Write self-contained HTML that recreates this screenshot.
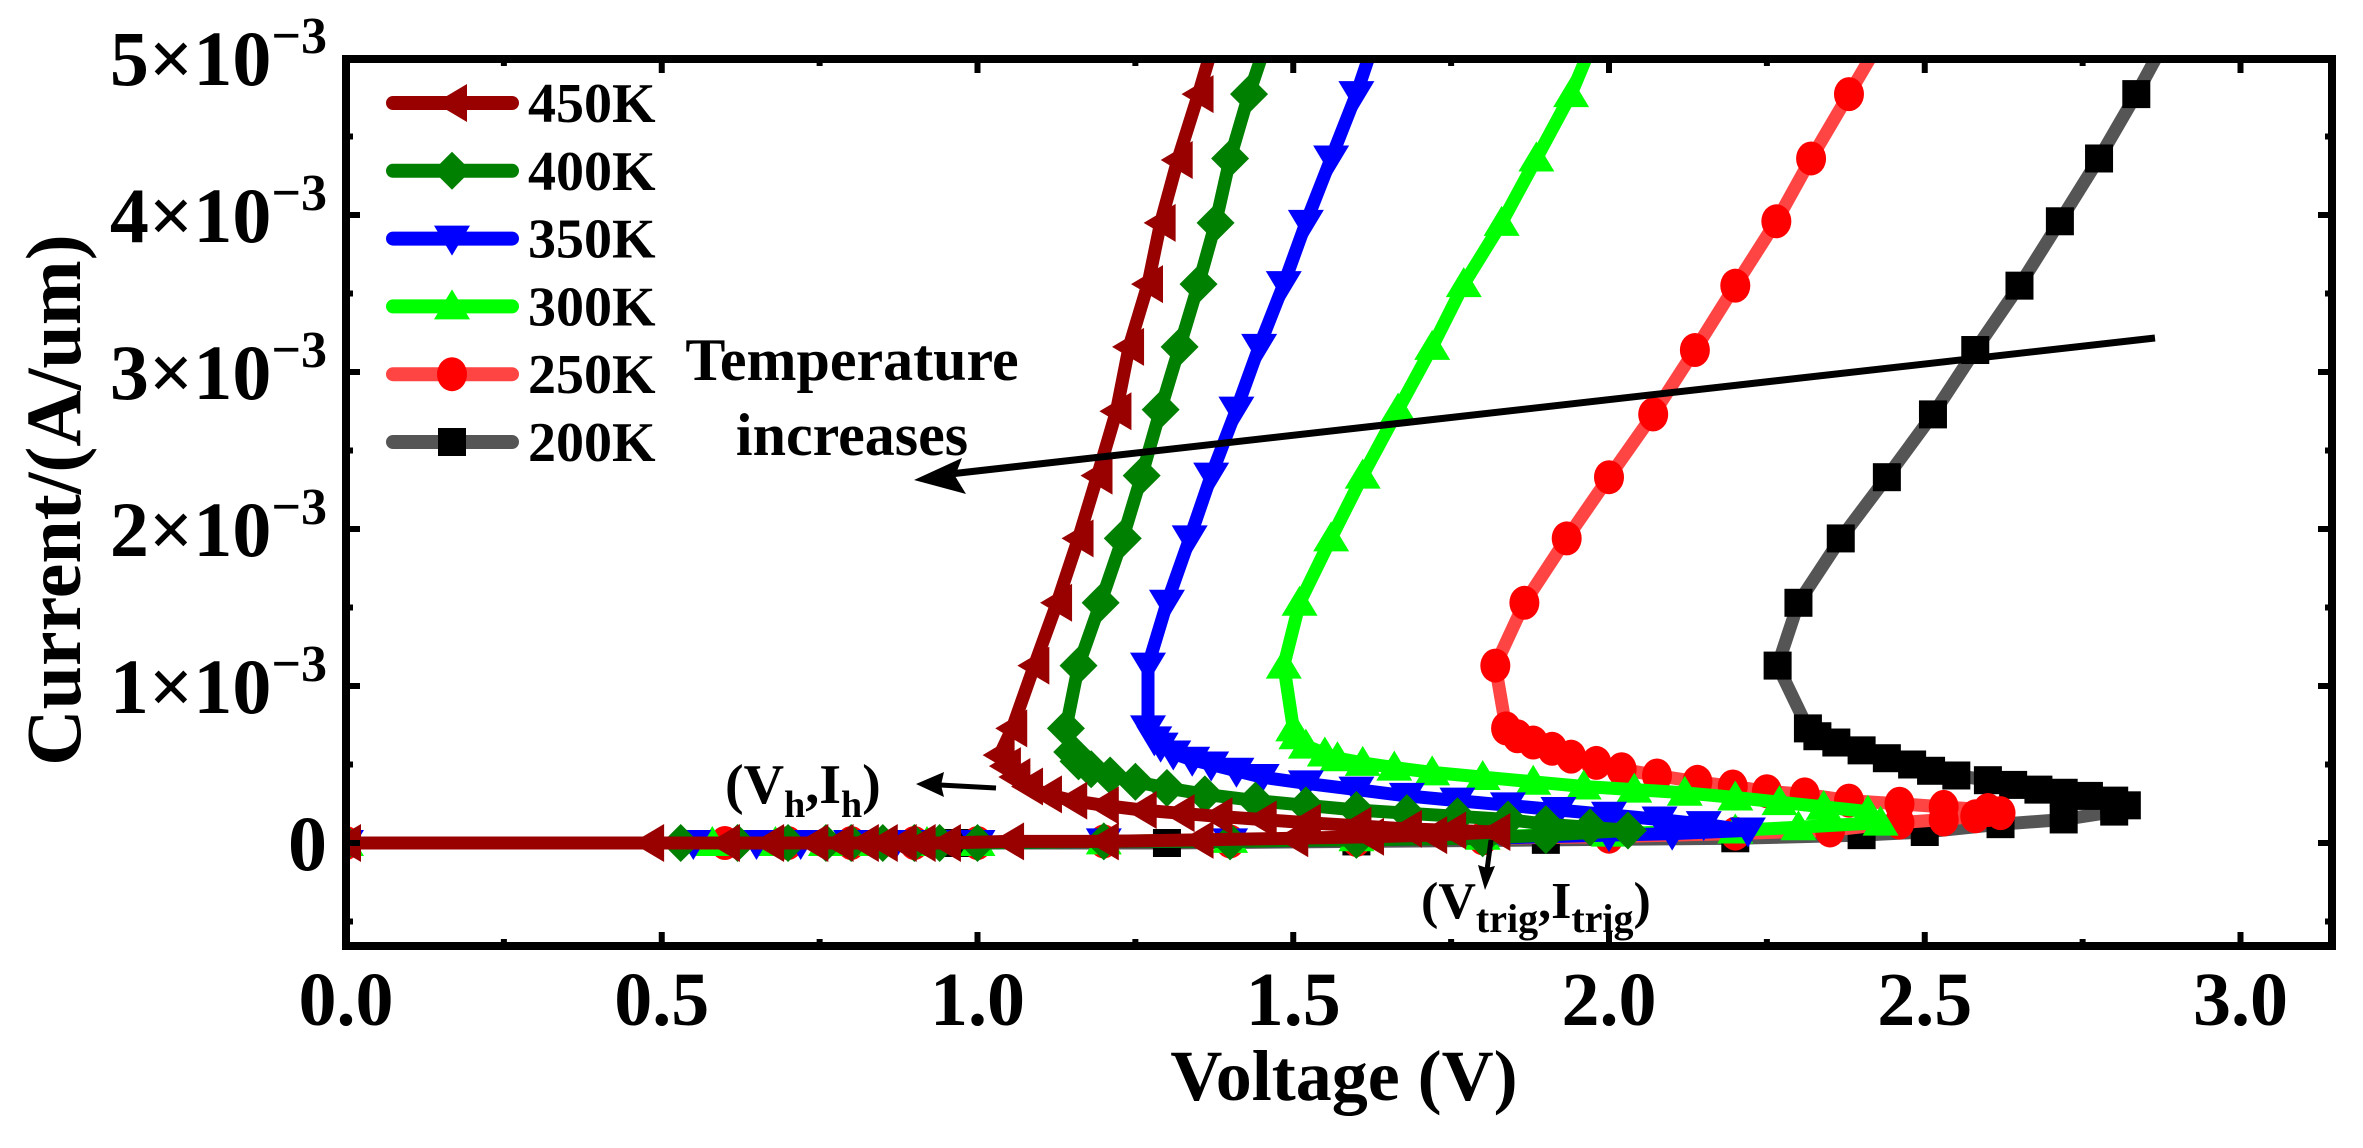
<!DOCTYPE html>
<html><head><meta charset="utf-8"><style>
html,body{margin:0;padding:0;background:#fff;}
svg{display:block;font-family:"Liberation Serif",serif;font-weight:bold;}
</style></head><body>
<svg id="chart" width="2363" height="1148" viewBox="0 0 2363 1148" xmlns="http://www.w3.org/2000/svg">
<defs><clipPath id="plotclip"><rect x="346" y="59" width="1986" height="887"/></clipPath></defs>
<g id="series" clip-path="url(#plotclip)"></g>
<g id="axes"></g>
<g id="legend"></g>
<g>
<text x="852" y="380" font-size="60" text-anchor="middle">Temperature</text>
<text x="852" y="455" font-size="60" text-anchor="middle">increases</text>
<line x1="2155" y1="338" x2="950" y2="474" stroke="#000" stroke-width="7"/>
<polygon points="914,480 962,458 955,476 966,494" fill="#000"/>
<text x="725" y="803" font-size="56">(V<tspan font-size="38" dy="14">h</tspan><tspan dy="-14">,I</tspan><tspan font-size="38" dy="14">h</tspan><tspan dy="-14">)</tspan></text>
<line x1="996" y1="788" x2="940" y2="785" stroke="#000" stroke-width="5"/>
<polygon points="916,784 944,772 941,785 944,797" fill="#000"/>
<text x="1421" y="918" font-size="52">(V<tspan font-size="40" dy="14">trig</tspan><tspan dy="-14">,I</tspan><tspan font-size="40" dy="14">trig</tspan><tspan dy="-14">)</tspan></text>
<line x1="1491" y1="840" x2="1487" y2="870" stroke="#000" stroke-width="5"/>
<polygon points="1485,890 1478,865 1487,868 1495,866" fill="#000"/>
</g>
<text x="1344" y="1100" font-size="72" text-anchor="middle">Voltage (V)</text>
<text x="0" y="0" font-size="78" text-anchor="middle" transform="translate(80,500) rotate(-90)">Current/(A/um)</text>
</svg>
<script>
// ---- data (V in volts, I in mA) ----
const seriesNames = ["200K","250K","300K","350K","400K","450K"];
const v200 = [0,0.97,1.3,1.6,1.9,2.2,2.4,2.5,2.62,2.72,2.8,2.82, 2.8,2.76,2.72,2.68,2.64,2.6,2.55,2.51,2.48,2.44,2.4,2.36,2.33,2.315, 2.267,2.30,2.367,2.44,2.513,2.58,2.65,2.714,2.776,2.835,2.90];
const i200 = [0,0,0,0.01,0.02,0.03,0.05,0.07,0.12,0.15,0.2,0.24, 0.27,0.3,0.32,0.34,0.37,0.4,0.43,0.46,0.5,0.54,0.59,0.64,0.68,0.73, 1.13,1.53,1.94,2.33,2.73,3.14,3.55,3.96,4.36,4.77,5.25];
const v250 = [0,0.6,0.7,0.8,0.9,1.0,1.2,1.4,1.6,1.8,2.0,2.2,2.35,2.46,2.53,2.58,2.62, 2.6,2.53,2.46,2.38,2.31,2.25,2.196,2.14,2.076,2.02,1.98,1.94,1.91,1.88,1.855,1.837, 1.82,1.866,1.933,2.0,2.07,2.136,2.2,2.265,2.32,2.38,2.45];
const i250 = [0,0,0,0,0,0,0.01,0.01,0.02,0.03,0.04,0.06,0.08,0.13,0.15,0.17,0.19, 0.21,0.23,0.25,0.27,0.31,0.33,0.36,0.39,0.43,0.47,0.51,0.55,0.6,0.64,0.68,0.73, 1.13,1.53,1.94,2.33,2.73,3.14,3.55,3.96,4.36,4.77,5.25];
const v300 = [0,0.58,0.68,0.76,0.84,0.92,1.0,1.2,1.4,1.6,1.8,2.0,2.2,2.3,2.43, 2.41,2.34,2.27,2.2,2.12,2.04,1.96,1.88,1.8,1.72,1.66,1.61,1.57,1.55,1.52,1.505, 1.50,1.485,1.51,1.56,1.61,1.666,1.72,1.77,1.83,1.885,1.94,1.99];
const i300 = [0,0,0,0,0,0,0,0.01,0.02,0.03,0.04,0.06,0.08,0.1,0.13, 0.2,0.23,0.26,0.29,0.32,0.34,0.36,0.39,0.42,0.45,0.48,0.51,0.54,0.57,0.62,0.68, 0.73,1.13,1.53,1.94,2.34,2.76,3.16,3.56,3.95,4.36,4.77,5.25];
const v350 = [0,0.55,0.65,0.72,0.8,0.87,0.93,1.0,1.2,1.4,1.6,1.8,2.0,2.1,2.22, 2.15,2.08,2.0,1.92,1.84,1.76,1.68,1.6,1.52,1.45,1.41,1.37,1.34,1.31,1.29,1.28, 1.27,1.27,1.30,1.336,1.37,1.41,1.446,1.485,1.52,1.56,1.60,1.64];
const i350 = [0,0,0,0,0,0,0,0,0.01,0.01,0.02,0.03,0.05,0.06,0.08, 0.12,0.15,0.18,0.21,0.24,0.27,0.3,0.34,0.38,0.42,0.46,0.5,0.53,0.57,0.62,0.66, 0.73,1.13,1.53,1.94,2.34,2.76,3.16,3.56,3.95,4.36,4.77,5.25];
const v400 = [0,0.53,0.62,0.7,0.76,0.8,0.85,0.9,0.94,1.0,1.2,1.4,1.6,1.8,1.9,2.03, 1.97,1.9,1.84,1.76,1.68,1.6,1.52,1.44,1.36,1.3,1.25,1.21,1.18,1.16,1.15, 1.14,1.16,1.195,1.23,1.26,1.29,1.32,1.35,1.377,1.40,1.43,1.47];
const i400 = [0,0,0,0,0,0,0,0,0,0,0.01,0.01,0.02,0.03,0.05,0.08, 0.1,0.12,0.15,0.17,0.19,0.21,0.24,0.27,0.31,0.35,0.39,0.43,0.47,0.52,0.58, 0.73,1.13,1.53,1.94,2.34,2.76,3.16,3.56,3.95,4.36,4.77,5.25];
const v450 = [0,0.48,0.6,0.67,0.74,0.78,0.82,0.85,0.88,0.91,0.95,1.05,1.2,1.35,1.5,1.62,1.72,1.82, 1.75,1.68,1.6,1.52,1.45,1.38,1.32,1.26,1.2,1.15,1.11,1.08,1.06,1.045,1.035, 1.055,1.09,1.126,1.16,1.19,1.22,1.24,1.27,1.29,1.317,1.35,1.385];
const i450 = [0,0,0,0,0,0,0,0,0,0,0,0.01,0.01,0.02,0.03,0.04,0.05,0.07, 0.08,0.09,0.11,0.13,0.15,0.17,0.19,0.21,0.24,0.27,0.31,0.36,0.42,0.49,0.56, 0.73,1.13,1.53,1.94,2.34,2.75,3.16,3.56,3.95,4.35,4.77,5.25];
const xTicks = [0,0.5,1.0,1.5,2.0,2.5,3.0];
const xTickLabels = ["0.0","0.5","1.0","1.5","2.0","2.5","3.0"];
const yTicks = [0,1,2,3,4,5];
const yTickMant = ["0","1","2","3","4","5"];

const NS="http://www.w3.org/2000/svg";
const X0=346, XS=631.5, Y0=843, YS=157, LEFT=346, RIGHT=2332, TOP=59, BOTTOM=946;
function sx(v){return X0+v*XS;}
function sy(i){return Y0-i*YS;}
function mk(tag,attrs,parent){const e=document.createElementNS(NS,tag);for(const k in attrs)e.setAttribute(k,attrs[k]);parent.appendChild(e);return e;}

const styles = {
 "200K":{line:"#555555",fill:"#000000",shape:"square"},
 "250K":{line:"#ff4444",fill:"#ff0000",shape:"circle"},
 "300K":{line:"#00ff00",fill:"#00ff00",shape:"up"},
 "350K":{line:"#0000ff",fill:"#0000ff",shape:"down"},
 "400K":{line:"#008000",fill:"#008000",shape:"diamond"},
 "450K":{line:"#990000",fill:"#990000",shape:"left"}
};
const dataV={"200K":v200,"250K":v250,"300K":v300,"350K":v350,"400K":v400,"450K":v450};
const dataI={"200K":i200,"250K":i250,"300K":i300,"350K":i350,"400K":i400,"450K":i450};

function marker(shape,cx,cy,fill,parent){
  let e;
  if(shape==="square") e=mk("rect",{x:cx-14,y:cy-14,width:28,height:28,fill:fill},parent);
  else if(shape==="circle") e=mk("ellipse",{cx:cx,cy:cy,rx:15,ry:17,fill:fill},parent);
  else {
    let p;
    if(shape==="up") p=[[cx,cy-17],[cx+18,cy+13],[cx-18,cy+13]];
    else if(shape==="down") p=[[cx,cy+17],[cx+18,cy-13],[cx-18,cy-13]];
    else if(shape==="diamond") p=[[cx,cy-19],[cx+19,cy],[cx,cy+19],[cx-19,cy]];
    else p=[[cx-17,cy],[cx+15,cy-19],[cx+15,cy+19]];
    e=mk("polygon",{points:p.map(q=>q.join(",")).join(" "),fill:fill},parent);
  }
  return e;
}

const sg=document.getElementById("series");
seriesNames.forEach(name=>{
  const st=styles[name], V=dataV[name], I=dataI[name];
  const g=mk("g",{},sg);
  
  
  const pts=V.map((v,k)=>sx(v).toFixed(1)+","+sy(I[k]).toFixed(1)).join(" ");
  const pl=mk("polyline",{points:pts,fill:"none",stroke:st.line,"stroke-width":13,"stroke-linejoin":"round","stroke-linecap":"round"},g);
  
  
  V.forEach((v,k)=>{
    const m=marker(st.shape,sx(v),sy(I[k]),st.fill,g);
    
    
  });
});

// axes
const ag=document.getElementById("axes");
const box=mk("rect",{x:LEFT,y:TOP,width:RIGHT-LEFT,height:BOTTOM-TOP,fill:"none",stroke:"#000","stroke-width":8},ag);


for(let v=0;v<=3.1;v+=0.25){
  const major=Math.abs(v*2-Math.round(v*2))<1e-6;
  const L=major?14:7, x=sx(v);
  const t1=mk("line",{x1:x,y1:BOTTOM,x2:x,y2:BOTTOM-L,stroke:"#000","stroke-width":6},ag);
  
  
  const t2=mk("line",{x1:x,y1:TOP,x2:x,y2:TOP+L,stroke:"#000","stroke-width":6},ag);
  
  
}
for(let i=-0.5;i<=5.01;i+=0.5){
  const major=Math.abs(i-Math.round(i))<1e-6;
  const L=major?14:7, y=sy(i);
  const t1=mk("line",{x1:LEFT,y1:y,x2:LEFT+L,y2:y,stroke:"#000","stroke-width":6},ag);
  
  
  const t2=mk("line",{x1:RIGHT,y1:y,x2:RIGHT-L,y2:y,stroke:"#000","stroke-width":6},ag);
  
  
}
xTicks.forEach((v,k)=>{
  const t=mk("text",{x:sx(v),y:1025,"font-size":76,"text-anchor":"middle"},ag);
  t.textContent=xTickLabels[k];
  
  
});
yTicks.forEach((i,k)=>{
  const t=mk("text",{x:327,y:sy(i)+27,"font-size":78,"text-anchor":"end"},ag);
  
  
  if(i===0){t.textContent="0";}
  else{
    const a=document.createElementNS(NS,"tspan");a.textContent=yTickMant[k]+"×10";t.appendChild(a);
    const b=document.createElementNS(NS,"tspan");b.setAttribute("font-size","52");b.setAttribute("dy","-32");b.textContent="−3";t.appendChild(b);
  }
});

// legend
const lg=document.getElementById("legend");
const legendOrder=["450K","400K","350K","300K","250K","200K"];
legendOrder.forEach((name,k)=>{
  const st=styles[name], y=103+k*67.8;
  const g=mk("g",{},lg);
  
  
  mk("line",{x1:393,y1:y,x2:512,y2:y,stroke:st.line,"stroke-width":14,"stroke-linecap":"round"},g);
  marker(st.shape,452,y,st.fill,g);
  const t=mk("text",{x:528,y:y+19,"font-size":56},g);
  t.textContent=name;
});
</script>
</body></html>
